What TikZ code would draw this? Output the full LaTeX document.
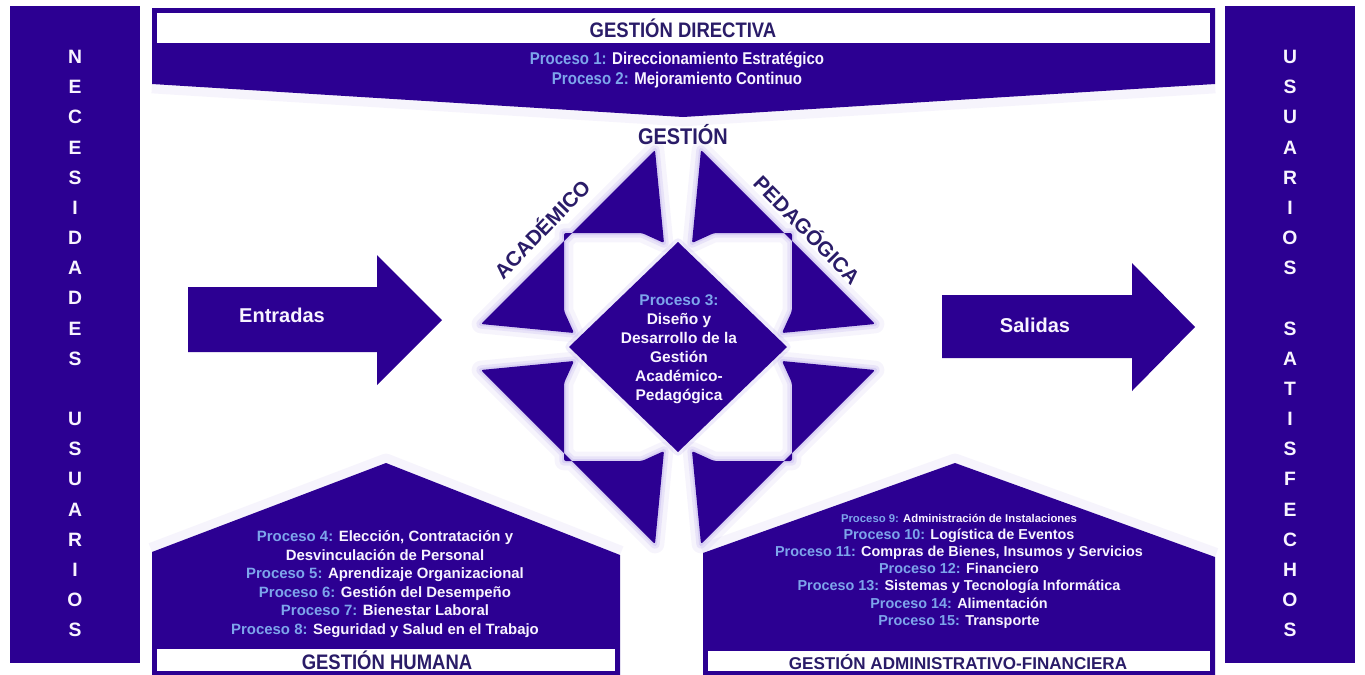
\documentclass[tikz,border=0pt]{standalone}
\usepackage{fontspec}
\setmainfont{Liberation Sans}
\newfontfamily\condfont[FakeStretch=0.88]{Liberation Sans}
\definecolor{purp}{RGB}{44,0,146}
\definecolor{procb}{RGB}{125,165,235}
\definecolor{txtw}{RGB}{248,244,255}
\definecolor{titc}{RGB}{42,28,104}
\definecolor{glow}{RGB}{170,155,235}
\newcommand{\pr}[1]{\textcolor{procb}{#1}}
\tikzset{
  pfill/.style={fill=purp, draw=none},
  glowA/.style={draw=glow, line width=14pt, opacity=0.10, line join=round},
  glowB/.style={draw=glow, line width=7pt, opacity=0.18, line join=round},
  glowC/.style={draw=glow, line width=3pt, opacity=0.25, line join=round},
  body/.style={font=\fontsize{11.2}{13.95}\selectfont\bfseries, text=txtw, align=center, inner sep=0pt},
  sideletter/.style={font=\fontsize{14.5}{15}\selectfont\bfseries, text=txtw, inner sep=0pt},
  titlecond/.style={font=\condfont\fontsize{15.75}{17}\selectfont\bfseries, text=titc, inner sep=0pt},
  arrowtext/.style={font=\fontsize{15}{16}\selectfont\bfseries, text=txtw, inner sep=0pt},
  diagtext/.style={font=\fontsize{15.5}{16}\selectfont\bfseries, text=titc, inner sep=0pt},
  whitebox/.style={fill=white, draw=purp, line width=0.8pt}
}
\begin{document}
\begin{tikzpicture}[x=0.75pt,y=-0.75pt]
\path[use as bounding box] (0,0) rectangle (1365,675);
\fill[white] (0,0) rectangle (1365,675);

% side bars
\fill[purp] (10,6) rectangle (140,663);
\fill[purp] (1225,6) rectangle (1355,663);
\foreach \c [count=\i from 0] in {N,E,C,E,S,I,D,A,D,E,S}
  \node[sideletter] (nl\i) at (75,{57+\i*30.16}) {\c};
\foreach \c [count=\i from 12] in {U,S,U,A,R,I,O,S}
  \node[sideletter] (nu\i) at (75,{57+\i*30.16}) {\c};
\foreach \c [count=\i from 0] in {U,S,U,A,R,I,O,S}
  \node[sideletter] (ru\i) at (1290,{57+\i*30.16}) {\c};
\foreach \c [count=\i from 9] in {S,A,T,I,S,F,E,C,H,O,S}
  \node[sideletter] (rs\i) at (1290,{57+\i*30.16}) {\c};

% glows of the central cluster
\foreach \sx/\sy in {1/1,-1/1,1/-1,-1/-1}{
  \begin{scope}[shift={(678,347)}, xscale=\sx, yscale=\sy]
    \draw[glowA] (-197,-23) -- (-23,-197) -- (-14,-104) -- (-36,-114) -- (-114,-114) -- (-114,-36) -- (-104,-14) -- cycle;
    \draw[glowB] (-197,-23) -- (-23,-197) -- (-14,-104) -- (-36,-114) -- (-114,-114) -- (-114,-36) -- (-104,-14) -- cycle;
    \draw[glowC] (-197,-23) -- (-23,-197) -- (-14,-104) -- (-36,-114) -- (-114,-114) -- (-114,-36) -- (-104,-14) -- cycle;
  \end{scope}
}
\draw[glowB] (678,243) -- (786,347) -- (678,451) -- (570,347) -- cycle;
\draw[glowA] (152,84) -- (683,117) -- (1215,84);
\draw[glowA] (152,552) -- (386,463) -- (620,555);
\draw[glowA] (703,553) -- (955,463) -- (1215,557);

% top banner
\fill[purp] (152,8) -- (1215,8) -- (1215,84) -- (683,117) -- (152,84) -- cycle;
\draw[whitebox] (156,12) rectangle (1211,44);
\node[titlecond] (gd) at (683,28) {GESTIÓN DIRECTIVA};
\node[body, font=\condfont\fontsize{12.8}{15}\selectfont\bfseries] (gdp) at (677,70)
  {\pr{Proceso 1:} Direccionamiento Estratégico\\ \pr{Proceso 2:} Mejoramiento Continuo};

% bottom-left: Gestion Humana
\fill[purp] (152,675) -- (152,552) -- (386,463) -- (620,555) -- (620,675) -- cycle;
\draw[whitebox] (156,648) rectangle (616,672);
\node[titlecond] (gh) at (387,660) {GESTIÓN HUMANA};
\node[body] (ghp) at (385,584)
  {\pr{Proceso 4:} Elección, Contratación y\\
   Desvinculación de Personal\\
   \pr{Proceso 5:} Aprendizaje Organizacional\\
   \pr{Proceso 6:} Gestión del Desempeño\\
   \pr{Proceso 7:} Bienestar Laboral\\
   \pr{Proceso 8:} Seguridad y Salud en el Trabajo};

% bottom-right: Gestion Administrativo-Financiera
\fill[purp] (703,675) -- (703,553) -- (955,463) -- (1215,557) -- (1215,675) -- cycle;
\draw[whitebox] (707,650) rectangle (1211,672);
\node[font=\fontsize{12.8}{13}\selectfont\bfseries, text=titc, inner sep=0pt] (ga) at (958,662) {GESTIÓN ADMINISTRATIVO-FINANCIERA};
\node[body, font=\fontsize{10.8}{12.9}\selectfont\bfseries] (gap) at (959,571)
  {{\fontsize{8.5}{12.9}\selectfont\pr{Proceso 9:} Administración de Instalaciones}\\
   \pr{Proceso 10:} Logística de Eventos\\
   \pr{Proceso 11:} Compras de Bienes, Insumos y Servicios\\
   \pr{Proceso 12:} Financiero\\
   \pr{Proceso 13:} Sistemas y Tecnología Informática\\
   \pr{Proceso 14:} Alimentación\\
   \pr{Proceso 15:} Transporte};

% Entradas / Salidas arrows
\fill[purp] (188,287) -- (377,287) -- (377,255) -- (442,320) -- (377,385) -- (377,352) -- (188,352) -- cycle;
\node[arrowtext] (ent) at (282,315) {Entradas};
\fill[purp] (942,295) -- (1132,295) -- (1132,263) -- (1195,327) -- (1132,391) -- (1132,358) -- (942,358) -- cycle;
\node[arrowtext] (sal) at (1035,325) {Salidas};

% central corner arrows
\foreach \sx/\sy in {1/1,-1/1,1/-1,-1/-1}{
  \begin{scope}[shift={(678,347)}, xscale=\sx, yscale=\sy]
    \fill[purp, rounded corners=1.5pt] (-197,-23) -- (-23,-197) -- (-14,-104) -- (-36,-114) -- (-114,-114) -- (-114,-36) -- (-104,-14) -- cycle;
  \end{scope}
}
% diamond
\fill[purp] (678,242) -- (787,347) -- (678,452) -- (569,347) -- cycle;
\node[body, font=\fontsize{11.6}{14.2}\selectfont\bfseries] (p3) at (679,349)
  {\pr{Proceso 3:}\\ Diseño y\\ Desarrollo de la\\ Gestión\\ Académico-\\ Pedagógica};

% labels around the cluster
\node[titlecond, font=\condfont\fontsize{17}{18}\selectfont\bfseries] (gest) at (683,135) {GESTIÓN};
\node[diagtext, rotate=46] (acad) at (541,228) {ACADÉMICO};
\node[diagtext, rotate=-45.5] (peda) at (808,229) {PEDAGÓGICA};
\end{tikzpicture}
\end{document}
